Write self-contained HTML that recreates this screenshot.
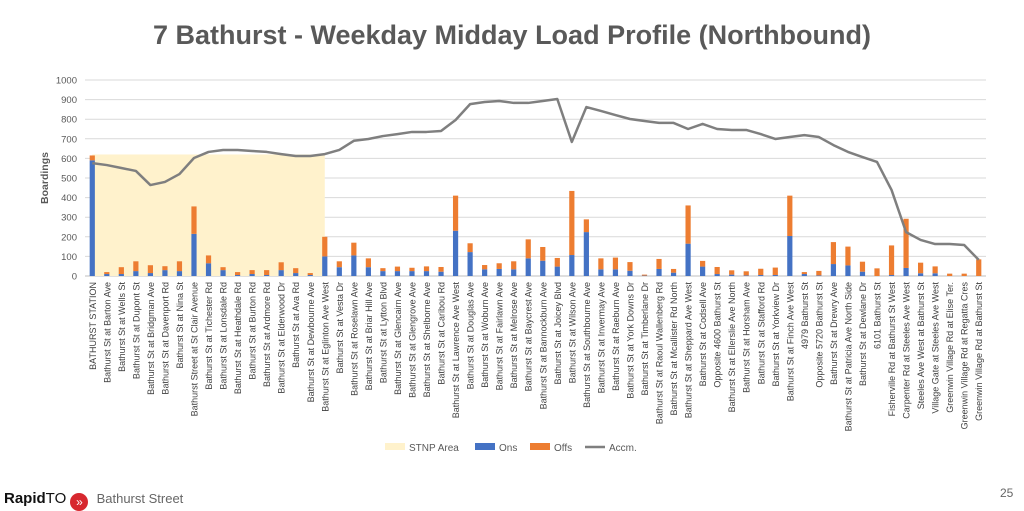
<!DOCTYPE html>
<html><head><meta charset="utf-8"><style>
body{margin:0;width:1024px;height:510px;background:#fff;font-family:"Liberation Sans",sans-serif;overflow:hidden;position:relative}
#title{position:absolute;left:0;width:1024px;top:20px;text-align:center;font-size:27px;font-weight:bold;color:#595959}
svg{position:absolute;left:0;top:0}
#footer{position:absolute;left:4px;top:490px;font-size:15px;color:#111}
#pg{position:absolute;left:1000px;top:486px;font-size:12px;color:#666}
</style></head><body>
<div id="title">7 Bathurst - Weekday Midday Load Profile (Northbound)</div>
<svg id="chart" width="1024" height="510"></svg>
<div id="footer"><b>Rapid</b>TO <span style="display:inline-block;width:18px;height:18px;border-radius:9px;background:#d7282f;color:#fff;font-size:12px;text-align:center;line-height:18px;vertical-align:-3px">»</span> <span style="color:#666;font-size:13px;margin-left:4px">Bathurst Street</span></div>
<div id="pg">25</div>
<script>
const categories=["BATHURST STATION","Bathurst St at Barton Ave","Bathurst St at Wells St","Bathurst St at Dupont St","Bathurst St at Bridgman Ave","Bathurst St at Davenport Rd","Bathurst St at Nina St","Bathurst Street at St Clair Avenue","Bathurst St at Tichester Rd","Bathurst St at Lonsdale Rd","Bathurst St at Heathdale Rd","Bathurst St at Burton Rd","Bathurst St at Ardmore Rd","Bathurst St at Elderwood Dr","Bathurst St at Ava Rd","Bathurst St at Dewbourne Ave","Bathurst St at Eglinton Ave West","Bathurst St at Vesta Dr","Bathurst St at Roselawn Ave","Bathurst St at Briar Hill Ave","Bathurst St at Lytton Blvd","Bathurst St at Glencairn Ave","Bathurst St at Glengrove Ave","Bathurst St at Shelborne Ave","Bathurst St at Caribou Rd","Bathurst St at Lawrence Ave West","Bathurst St at Douglas Ave","Bathurst St at Woburn Ave","Bathurst St at Fairlawn Ave","Bathurst St at Melrose Ave","Bathurst St at Baycrest Ave","Bathurst St at Bannockburn Ave","Bathurst St at Joicey Blvd","Bathurst St at Wilson Ave","Bathurst St at Southbourne Ave","Bathurst St at Invermay Ave","Bathurst St at Raeburn Ave","Bathurst St at York Downs Dr","Bathurst St at Timberlane Dr","Bathurst St at Raoul Wallenberg Rd","Bathurst St at Mcallister Rd North","Bathurst St at Sheppard Ave West","Bathurst St at Codsell Ave","Opposite 4600 Bathurst St","Bathurst St at Ellerslie Ave North","Bathurst St at Horsham Ave","Bathurst St at Stafford Rd","Bathurst St at Yorkview Dr","Bathurst St at Finch Ave West","4979 Bathurst St","Opposite 5720 Bathurst St","Bathurst St at Drewry Ave","Bathurst St at Patricia Ave North Side","Bathurst St at Dewlane Dr","6101 Bathurst St","Fisherville Rd at Bathurst St West","Carpenter Rd at Steeles Ave West","Steeles Ave West at Bathurst St","Village Gate at Steeles Ave West","Greenwin Village Rd at Elise Ter.","Greenwin Village Rd at Regatta Cres","Greenwin Village Rd at Bathurst St"];
const ons=[590,10,10,25,15,30,25,215,65,30,5,10,5,30,15,5,100,45,105,45,25,25,25,25,22,231,122,34,36,34,90,78,48,107,224,34,34,27,2,36,17,165,48,10,7,3,5,5,204,10,3,61,54,22,0,5,41,14,14,0,0,0];
const offs=[25,10,35,50,40,20,50,140,40,15,15,20,25,40,25,10,100,30,65,45,15,23,17,24,24,179,45,22,29,41,97,70,44,327,65,56,60,44,5,51,19,195,29,36,22,21,32,38,206,10,23,112,96,51,39,151,251,54,35,12,12,85];
const accm=[576,566,551,536,464,480,520,602,633,643,643,638,633,622,612,612,622,643,690,699,714,724,735,735,740,796,877,888,893,883,883,893,903,684,862,842,821,801,791,781,781,750,776,750,745,745,724,699,709,719,709,668,633,607,582,439,224,184,163,163,158,82];
const stnpValue=620, stnpEnd=16;
const yTicks=[0,100,200,300,400,500,600,700,800,900,1000];

const svg=document.getElementById('chart');const NS='http://www.w3.org/2000/svg';
function mk(t,a,p){const e=document.createElementNS(NS,t);for(const k in a)e.setAttribute(k,a[k]);(p||svg).appendChild(e);return e;}
const L=85,R=986,Y0=276,Y1=80;
const step=(R-L)/categories.length;
const xS=i=>L+step*(i+0.5);
const yS=v=>Y0-(v/1000)*(Y0-Y1);
yTicks.forEach(t=>{
 const g=mk('line',{x1:L,x2:R,y1:yS(t),y2:yS(t),stroke:t?'#d9d9d9':'#bfbfbf','stroke-width':1});
 
 const tx=mk('text',{x:77,y:yS(t)+3.5,'text-anchor':'end','font-size':9.5,fill:'#595959'});tx.textContent=t;
 
});
const yt=mk('text',{x:0,y:0,transform:'translate(48,178) rotate(-90)','text-anchor':'middle','font-size':10.5,'font-weight':'bold',fill:'#595959'});yt.textContent='Boardings';

const area=mk('rect',{x:xS(0),y:yS(stnpValue),width:xS(stnpEnd)-xS(0),height:Y0-yS(stnpValue),fill:'#fff2cc'});

categories.forEach((c,i)=>{
 const x=xS(i)-2.6,w=5.2;
 const b1=mk('rect',{x:x,y:yS(ons[i]),width:w,height:Y0-yS(ons[i]),fill:'#4472c4'});
 
 const b2=mk('rect',{x:x,y:yS(ons[i]+offs[i]),width:w,height:yS(ons[i])-yS(ons[i]+offs[i]),fill:'#ed7d31'});
 
 const t=mk('text',{x:0,y:0,transform:`translate(${xS(i)+3.5},282) rotate(-90)`,'text-anchor':'end','font-size':9,fill:'#404040'});t.textContent=c;
 
});
const ln=mk('polyline',{points:accm.map((v,i)=>xS(i)+','+yS(v)).join(' '),fill:'none',stroke:'#7f7f7f','stroke-width':2.5,'stroke-linejoin':'round'});

// legend
const lg=[['STNP Area','#fff2cc',385,'rect'],['Ons','#4472c4',475,'rect'],['Offs','#ed7d31',530,'rect'],['Accm.','#7f7f7f',585,'line']];
lg.forEach(l=>{
 if(l[3]==='rect'){const s=mk('rect',{x:l[2],y:443,width:20,height:7,fill:l[1]});}
 else{const s=mk('line',{x1:l[2],x2:l[2]+20,y1:447,y2:447,stroke:l[1],'stroke-width':2.5});}
 const t=mk('text',{x:l[2]+24,y:451,'font-size':10,fill:'#595959'});t.textContent=l[0];
 
});
</script>
</body></html>
